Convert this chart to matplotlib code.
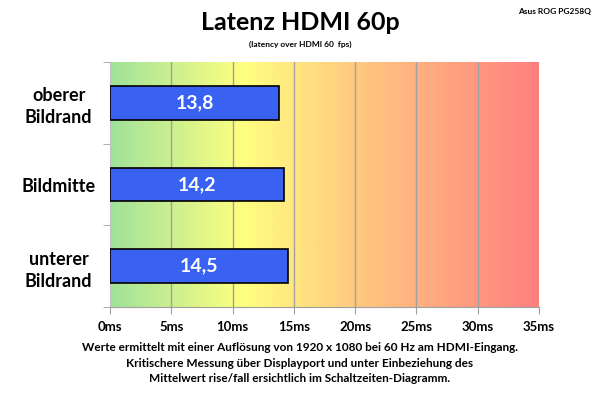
import numpy as np
import matplotlib.pyplot as plt
from matplotlib.colors import LinearSegmentedColormap

# Daten
categories = ["oberer\nBildrand", "Bildmitte", "unterer\nBildrand"]
latency_ms = [13.8, 14.2, 14.5]
value_labels = ["13,8", "14,2", "14,5"]
x_ticks = [0, 5, 10, 15, 20, 25, 30, 35]
x_tick_labels = ["0ms", "5ms", "10ms", "15ms", "20ms", "25ms", "30ms", "35ms"]

FONT = ["Lato", "DejaVu Sans"]
plt.rcParams["font.family"] = FONT

fig = plt.figure(figsize=(6, 3.95), dpi=100)
fig.patch.set_facecolor("white")
ax = fig.add_axes([0.1833, 0.2228, 0.715, 0.620])

# Hintergrund-Verlauf gruen -> gelb -> orange -> rot
cmap = LinearSegmentedColormap.from_list(
    "bg",
    [(0.0, "#9fe29a"), (0.31, "#ffff80"), (0.57, "#ffca80"), (1.0, "#ff7f7f")],
)
grad = np.linspace(0, 1, 512).reshape(1, -1)
ax.imshow(grad, cmap=cmap, aspect="auto", extent=[0, 35, 2.5, -0.5], zorder=0)

# Gitterlinien
for xv in x_ticks[1:-1]:
    ax.axvline(xv, color="#a0a0a0", linewidth=1, zorder=1)

y = np.arange(len(categories))
ax.barh(y, latency_ms, height=0.41, color="#3a62f2", edgecolor="black",
        linewidth=1.2, zorder=3)
for yi, v, lab in zip(y, latency_ms, value_labels):
    ax.text(v / 2, yi, lab, ha="center", va="center", color="white",
            fontsize=14, fontweight="bold", zorder=4)

ax.set_xlim(0, 35)
ax.set_ylim(2.5, -0.5)
ax.set_xticks(x_ticks)
ax.set_xticklabels(x_tick_labels, fontsize=9.5, fontweight="bold")
ax.set_yticks(y)
ax.set_yticklabels(categories, fontsize=13, fontweight="bold", ha="center",
                   linespacing=1.35)
ax.tick_params(axis="y", length=0, pad=37)
ax.set_yticks([-0.5, 0.5, 1.5, 2.5], minor=True)
ax.tick_params(axis="y", which="minor", length=5, color="#a0a0a0")
ax.tick_params(axis="x", length=5, color="#a0a0a0", pad=5)

for s in ["top", "right"]:
    ax.spines[s].set_visible(False)
ax.spines["left"].set_color("#c0c0c0")
ax.spines["bottom"].set_color("#a0a0a0")

# Titel und Texte
fig.text(0.5, 0.942, "Latenz HDMI 60p", ha="center", va="center",
         fontsize=18, fontweight="bold")
fig.text(0.5, 0.888, "(latency over HDMI 60  fps)", ha="center", va="center",
         fontsize=6, fontweight="bold")
fig.text(0.985, 0.97, "Asus ROG PG258Q", ha="right", va="center",
         fontsize=6, fontweight="bold")
fig.text(0.5, 0.081,
         "Werte ermittelt mit einer Auflösung von 1920 x 1080 bei 60 Hz am HDMI-Eingang.\n"
         "Kritischere Messung über Displayport und unter Einbeziehung des\n"
         "Mittelwert rise/fall ersichtlich im Schaltzeiten-Diagramm.",
         ha="center", va="center", fontsize=8.5, fontweight="bold", linespacing=1.45)

fig.savefig("out.png", dpi=100, facecolor="white")
